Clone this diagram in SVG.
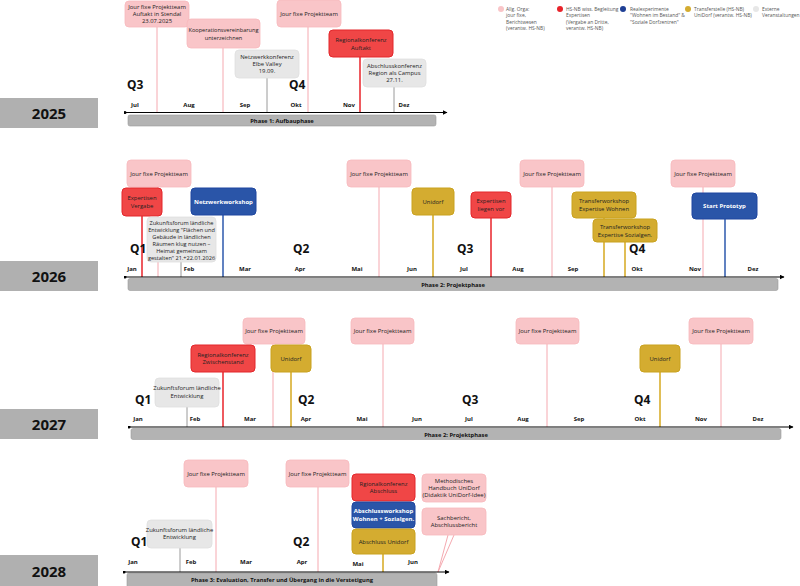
<svg xmlns="http://www.w3.org/2000/svg" width="800" height="586" viewBox="0 0 800 586">
<defs>
<marker id="arr" viewBox="0 0 10 10" refX="9" refY="5" markerWidth="5" markerHeight="5" orient="auto" markerUnits="userSpaceOnUse"><path d="M0,0 L10,5 L0,10 z" fill="#000"/></marker>
<marker id="dot" viewBox="0 0 10 10" refX="5" refY="5" markerWidth="3" markerHeight="3" markerUnits="userSpaceOnUse"><circle cx="5" cy="5" r="5" fill="#000"/></marker>
<style>
text{font-family:"Open Sans","Noto Sans","Liberation Sans",sans-serif;fill:#222;}
.t{font-size:5.9px;text-anchor:middle;}
.tn{font-size:5.6px;text-anchor:middle;}
.tw{font-size:6px;text-anchor:middle;fill:#fff;font-weight:700;}
.lg{font-size:4.9px;fill:#555;}
.m{font-size:6px;font-weight:700;text-anchor:middle;fill:#111;}
.q{font-family:"Noto Sans","DejaVu Sans",sans-serif;font-size:12px;font-weight:700;fill:#111;}
.yr{font-family:"Noto Sans","DejaVu Sans",sans-serif;font-size:15px;font-weight:700;text-anchor:middle;fill:#111;}
.ph{font-size:5.8px;font-weight:700;text-anchor:middle;fill:#111;}
.pink{fill:#f9c5c8;stroke:#f7b9bd;stroke-width:0.8;}
.red{fill:#f04646;stroke:#e3262b;stroke-width:1;}
.blue{fill:#2a55a8;stroke:#1f47a0;stroke-width:1;}
.gold{fill:#d4ac30;stroke:#c9a21f;stroke-width:1;}
.grey{fill:#e7e7e7;stroke:#e0e0e0;stroke-width:0.8;}
.ypbox{fill:#b0b0b0;}
.bar{fill:#b3b3b3;stroke:#9a9a9a;stroke-width:0.6;}
.axis{stroke:#000;stroke-width:1.2;fill:none;}
.lp{stroke:#f5a9b0;stroke-width:1;}
.lr{stroke:#e8232a;stroke-width:1.5;}
.lb{stroke:#2d58ad;stroke-width:1.5;}
.lgd{stroke:#d6a91f;stroke-width:1.5;}
.lgr{stroke:#9a9a9a;stroke-width:1;}
</style>
</defs>
<rect width="800" height="586" fill="#fff"/>

<g id="legend">
<circle cx="501" cy="9" r="3" fill="#f9c5c8"/>
<text class="lg"><tspan x="506" y="10.5">Allg. Orga:</tspan><tspan x="506" y="17">jour fixe,</tspan><tspan x="506" y="23.5">Berichtwesen</tspan><tspan x="506" y="30">(verantw. HS-NB)</tspan></text>
<circle cx="560" cy="9" r="3" fill="#e8232a"/>
<text class="lg"><tspan x="566" y="10.5">HS-NB wiss. Begleitung</tspan><tspan x="566" y="17">Expertisen</tspan><tspan x="566" y="23.5">(Vergabe an Dritte,</tspan><tspan x="566" y="30">verantw. HS-NB)</tspan></text>
<circle cx="623" cy="9" r="3" fill="#1f3f95"/>
<text class="lg"><tspan x="630" y="10.5">Realexperimente</tspan><tspan x="630" y="17">"Wohnen im Bestand" &amp;</tspan><tspan x="630" y="23.5">"Soziale Dorfzentren"</tspan></text>
<circle cx="688" cy="9" r="3" fill="#d4ac30"/>
<text class="lg"><tspan x="694" y="10.5">Transferstelle (HS-NB)</tspan><tspan x="694" y="17">UniDorf (verantw. HS-NB)</tspan></text>
<circle cx="756" cy="9" r="3" fill="#e7e7e7"/>
<text class="lg"><tspan x="762" y="10.5">Externe</tspan><tspan x="762" y="17">Veranstaltungen</tspan></text>
</g>

<!-- ================= 2025 ================= -->
<g id="year-2025">
<rect class="ypbox" x="0" y="98" width="98" height="30"/>
<text class="yr" x="49" y="119">2025</text>
</g>
<g id="connectors-2025">
<line class="lp" x1="157" y1="27" x2="157" y2="112"/>
<line class="lp" x1="223" y1="48" x2="223" y2="112"/>
<line class="lgr" x1="267" y1="78" x2="267" y2="112"/>
<line class="lp" x1="308" y1="27" x2="308" y2="112"/>
<line class="lr" x1="360" y1="57" x2="360" y2="112"/>
<line class="lgr" x1="394" y1="87" x2="394" y2="112"/>
</g>
<g id="axis-2025">
<rect class="bar" x="128" y="115" width="308" height="11" rx="2"/>
<text class="ph" x="282" y="123">Phase 1:  Aufbauphase</text>
<line class="axis" x1="125" y1="112.5" x2="447" y2="112.5" marker-end="url(#arr)" marker-start="url(#dot)"/>
<text class="m" x="135" y="107">Jul</text><text class="m" x="189" y="107">Aug</text><text class="m" x="245" y="107">Sep</text><text class="m" x="296" y="107">Okt</text><text class="m" x="349" y="107">Nov</text><text class="m" x="404" y="107">Dez</text>
<text class="q" x="127" y="89">Q3</text><text class="q" x="289" y="89">Q4</text>
</g>
<g id="n25a"><rect class="pink" x="125" y="1" width="64" height="26" rx="4"/><text class="t"><tspan x="157" y="8.5">Jour fixe Projektteam</tspan><tspan x="157" y="15.5">Auftakt in Stendal</tspan><tspan x="157" y="22.5">23.07.2025</tspan></text></g>
<g id="n25b"><rect class="pink" x="187" y="19" width="73" height="29" rx="4"/><text class="tn"><tspan x="223.5" y="32">Kooperationsvereinbarung</tspan><tspan x="223.5" y="39.5">unterzeichnen</tspan></text></g>
<g id="n25c"><rect class="grey" x="235" y="50" width="64" height="28" rx="4"/><text class="t"><tspan x="267" y="59">Netzwerkkonferenz</tspan><tspan x="267" y="66">Elbe Valley</tspan><tspan x="267" y="73">19.09.</tspan></text></g>
<g id="n25d"><rect class="pink" x="277" y="0" width="64" height="27" rx="4"/><text class="t" x="309" y="16">Jour fixe Projektteam</text></g>
<g id="n25e"><rect class="red" x="329" y="30" width="64" height="27" rx="4"/><text class="t"><tspan x="361" y="42">Regionalkonferenz</tspan><tspan x="361" y="49.5">Auftakt</tspan></text></g>
<g id="n25f"><rect class="grey" x="363" y="59" width="63" height="28" rx="4"/><text class="t"><tspan x="394.5" y="68">Abschlusskonferenz</tspan><tspan x="394.5" y="75">Region als Campus</tspan><tspan x="394.5" y="82">27.11.</tspan></text></g>

<!-- ================= 2026 ================= -->
<g id="year-2026">
<rect class="ypbox" x="0" y="261" width="98" height="30"/>
<text class="yr" x="49" y="282">2026</text>
</g>
<g id="connectors-2026">
<line class="lp" x1="158" y1="187" x2="158" y2="277"/>
<line class="lr" x1="142" y1="216" x2="142" y2="277"/>
<line class="lb" x1="223" y1="215" x2="223" y2="277"/>
<line class="lgr" x1="181" y1="262" x2="181" y2="277"/>
<line class="lp" x1="379" y1="187" x2="379" y2="277"/>
<line class="lgd" x1="433" y1="215" x2="433" y2="277"/>
<line class="lr" x1="491" y1="218" x2="491" y2="277"/>
<line class="lp" x1="552" y1="187" x2="552" y2="277"/>
<line class="lgd" x1="604" y1="218" x2="604" y2="277"/>
<line class="lgd" x1="625" y1="242" x2="625" y2="277"/>
<line class="lp" x1="703" y1="187" x2="703" y2="277"/>
<line class="lb" x1="725" y1="219" x2="725" y2="277"/>
</g>
<g id="axis-2026">
<rect class="bar" x="128" y="278.5" width="650" height="12" rx="2"/>
<text class="ph" x="453" y="287">Phase 2:  Projektphase</text>
<line class="axis" x1="125" y1="277" x2="784" y2="277" marker-end="url(#arr)" marker-start="url(#dot)"/>
<text class="m" x="132" y="271">Jan</text><text class="m" x="189" y="271">Feb</text><text class="m" x="245" y="271">Mar</text><text class="m" x="300" y="271">Apr</text><text class="m" x="357" y="271">Mai</text><text class="m" x="412" y="271">Jun</text><text class="m" x="464" y="271">Jul</text><text class="m" x="518" y="271">Aug</text><text class="m" x="573" y="271">Sep</text><text class="m" x="637" y="271">Okt</text><text class="m" x="695" y="271">Nov</text><text class="m" x="753" y="271">Dez</text>
<text class="q" x="130" y="253">Q1</text><text class="q" x="293" y="253">Q2</text><text class="q" x="457" y="253">Q3</text><text class="q" x="629" y="253">Q4</text>
</g>
<g id="n26a"><rect class="pink" x="127" y="160" width="64" height="27" rx="4"/><text class="t" x="159" y="176">Jour fixe Projektteam</text></g>
<g id="n26b"><rect class="red" x="122" y="188" width="40" height="28" rx="4"/><text class="t"><tspan x="142" y="200">Expertisen</tspan><tspan x="142" y="207.5">Vergabe</tspan></text></g>
<g id="n26c"><rect class="blue" x="191" y="188" width="65" height="27" rx="4"/><text class="tw" x="223.5" y="204">Netzwerkworkshop</text></g>
<g id="n26d"><rect class="grey" x="147" y="217" width="69" height="45" rx="4"/><text class="tn"><tspan x="181.5" y="224.5">Zukunftsforum ländliche</tspan><tspan x="181.5" y="231.5">Entwicklung "Flächen und</tspan><tspan x="181.5" y="238.5">Gebäude in ländlichen</tspan><tspan x="181.5" y="245.5">Räumen klug nutzen –</tspan><tspan x="181.5" y="252.5">Heimat gemeinsam</tspan><tspan x="181.5" y="259.5">gestalten" 21.+22.01.2026</tspan></text></g>
<g id="n26e"><rect class="pink" x="347" y="160" width="64" height="27" rx="4"/><text class="t" x="379" y="176">Jour fixe Projektteam</text></g>
<g id="n26f"><rect class="gold" x="412" y="188" width="42" height="27" rx="4"/><text class="t" x="433" y="204">Unidorf</text></g>
<g id="n26g"><rect class="red" x="471" y="192" width="40" height="26" rx="4"/><text class="t"><tspan x="491" y="203">Expertisen</tspan><tspan x="491" y="210.5">liegen vor</tspan></text></g>
<g id="n26h"><rect class="pink" x="520" y="160" width="64" height="27" rx="4"/><text class="t" x="552" y="176">Jour fixe Projektteam</text></g>
<g id="n26i"><rect class="gold" x="572" y="192" width="64" height="26" rx="4"/><text class="t"><tspan x="604" y="203">Transferworkshop</tspan><tspan x="604" y="210.5">Expertise Wohnen</tspan></text></g>
<g id="n26j"><rect class="gold" x="593" y="219" width="64" height="23" rx="4"/><text class="t"><tspan x="625" y="229">Transferworkshop</tspan><tspan x="625" y="236.5">Expertise Sozialgen.</tspan></text></g>
<g id="n26k"><rect class="pink" x="671" y="160" width="64" height="27" rx="4"/><text class="t" x="703" y="176">Jour fixe Projektteam</text></g>
<g id="n26l"><rect class="blue" x="692" y="193" width="65" height="26" rx="4"/><text class="tw" x="724.5" y="208">Start Prototyp</text></g>

<!-- ================= 2027 ================= -->
<g id="year-2027">
<rect class="ypbox" x="0" y="409" width="98" height="30"/>
<text class="yr" x="49" y="430">2027</text>
</g>
<g id="connectors-2027">
<line class="lp" x1="273" y1="344" x2="273" y2="427"/>
<line class="lr" x1="223" y1="372" x2="223" y2="427"/>
<line class="lgd" x1="291" y1="372" x2="291" y2="427"/>
<line class="lgr" x1="187" y1="407" x2="187" y2="427"/>
<line class="lp" x1="383" y1="344" x2="383" y2="427"/>
<line class="lp" x1="547" y1="344" x2="547" y2="427"/>
<line class="lgd" x1="660" y1="372" x2="660" y2="427"/>
<line class="lp" x1="721" y1="344" x2="721" y2="427"/>
</g>
<g id="axis-2027">
<rect class="bar" x="131" y="428.5" width="650" height="11" rx="2"/>
<text class="ph" x="456" y="436.5">Phase 2:  Projektphase</text>
<line class="axis" x1="129" y1="427" x2="793" y2="427" marker-end="url(#arr)" marker-start="url(#dot)"/>
<text class="m" x="138" y="421">Jan</text><text class="m" x="195" y="421">Feb</text><text class="m" x="250" y="421">Mar</text><text class="m" x="306" y="421">Apr</text><text class="m" x="362" y="421">Mai</text><text class="m" x="417" y="421">Jun</text><text class="m" x="469" y="421">Jul</text><text class="m" x="523" y="421">Aug</text><text class="m" x="579" y="421">Sep</text><text class="m" x="640" y="421">Okt</text><text class="m" x="701" y="421">Nov</text><text class="m" x="758" y="421">Dez</text>
<text class="q" x="135" y="404">Q1</text><text class="q" x="298" y="404">Q2</text><text class="q" x="462" y="404">Q3</text><text class="q" x="634" y="404">Q4</text>
</g>
<g id="n27a"><rect class="pink" x="243" y="318" width="62" height="26" rx="4"/><text class="t" x="274" y="333">Jour fixe Projektteam</text></g>
<g id="n27b"><rect class="red" x="191" y="345" width="64" height="27" rx="4"/><text class="t"><tspan x="223" y="356.5">Regionalkonferenz</tspan><tspan x="223" y="364">Zwischenstand</tspan></text></g>
<g id="n27c"><rect class="gold" x="271" y="345" width="40" height="27" rx="4"/><text class="t" x="291" y="361">Unidorf</text></g>
<g id="n27d"><rect class="grey" x="155" y="378" width="64" height="29" rx="4"/><text class="t"><tspan x="187" y="390">Zukunftsforum ländliche</tspan><tspan x="187" y="397.5">Entwicklung</tspan></text></g>
<g id="n27e"><rect class="pink" x="351" y="318" width="63" height="26" rx="4"/><text class="t" x="382.5" y="333">Jour fixe Projektteam</text></g>
<g id="n27f"><rect class="pink" x="516" y="318" width="63" height="26" rx="4"/><text class="t" x="547.5" y="333">Jour fixe Projektteam</text></g>
<g id="n27g"><rect class="gold" x="640" y="345" width="40" height="27" rx="4"/><text class="t" x="660" y="361">Unidorf</text></g>
<g id="n27h"><rect class="pink" x="689" y="318" width="64" height="26" rx="4"/><text class="t" x="721" y="333">Jour fixe Projektteam</text></g>

<!-- ================= 2028 ================= -->
<g id="year-2028">
<rect class="ypbox" x="0" y="555" width="98" height="31"/>
<text class="yr" x="49" y="577">2028</text>
</g>
<g id="connectors-2028">
<line class="lp" x1="216" y1="487" x2="216" y2="572"/>
<line class="lp" x1="318" y1="487" x2="318" y2="572"/>
<line class="lgr" x1="180" y1="548" x2="180" y2="572"/>
<line class="lgd" x1="383" y1="554" x2="383" y2="572"/>
<line class="lp" x1="448" y1="535" x2="438" y2="572"/>
<line class="lp" x1="454" y1="535" x2="438" y2="572"/>
</g>
<g id="axis-2028">
<rect class="bar" x="127" y="573" width="310" height="15" rx="2"/>
<text class="ph" x="282" y="581.5">Phase 3:  Evaluation, Transfer und Übergang in die Verstetigung</text>
<line class="axis" x1="124" y1="572" x2="449" y2="572" marker-end="url(#arr)" marker-start="url(#dot)"/>
<text class="m" x="133" y="564">Jan</text><text class="m" x="191" y="564">Feb</text><text class="m" x="246" y="564">Mar</text><text class="m" x="302" y="564">Apr</text><text class="m" x="358" y="566">Mai</text><text class="m" x="413" y="564">Jun</text>
<text class="q" x="131" y="546">Q1</text><text class="q" x="293" y="546">Q2</text>
</g>
<g id="n28a"><rect class="pink" x="184" y="460" width="64" height="27" rx="4"/><text class="t" x="216" y="476">Jour fixe Projektteam</text></g>
<g id="n28b"><rect class="pink" x="286" y="460" width="63" height="27" rx="4"/><text class="t" x="317.5" y="476">Jour fixe Projektteam</text></g>
<g id="n28c"><rect class="grey" x="147" y="520" width="65" height="28" rx="4"/><text class="t"><tspan x="179.5" y="531.5">Zukunftsforum ländliche</tspan><tspan x="179.5" y="539">Entwicklung</tspan></text></g>
<g id="n28d"><rect class="red" x="352" y="474" width="63" height="27" rx="4"/><text class="t"><tspan x="383.5" y="485.5">Rgionalkonferenz</tspan><tspan x="383.5" y="493">Abschluss</tspan></text></g>
<g id="n28e"><rect class="blue" x="352" y="502" width="63" height="26" rx="4"/><text class="tw"><tspan x="383.5" y="513">Abschlussworkshop</tspan><tspan x="383.5" y="520.5">Wohnen + Sozialgen.</tspan></text></g>
<g id="n28f"><rect class="gold" x="352" y="529" width="63" height="25" rx="4"/><text class="t" x="383.5" y="544">Abschluss Unidorf</text></g>
<g id="n28g"><rect class="pink" x="422" y="474" width="64" height="28" rx="4"/><text class="t"><tspan x="454" y="482.5">Methodisches</tspan><tspan x="454" y="489.5">Handbuch UniDorf</tspan><tspan x="454" y="496.5">(Didaktik UniDorf-Idee)</tspan></text></g>
<g id="n28h"><rect class="pink" x="422" y="508" width="64" height="27" rx="4"/><text class="t"><tspan x="454" y="519.5">Sachbericht,</tspan><tspan x="454" y="527">Abschlussbericht</tspan></text></g>
</svg>
